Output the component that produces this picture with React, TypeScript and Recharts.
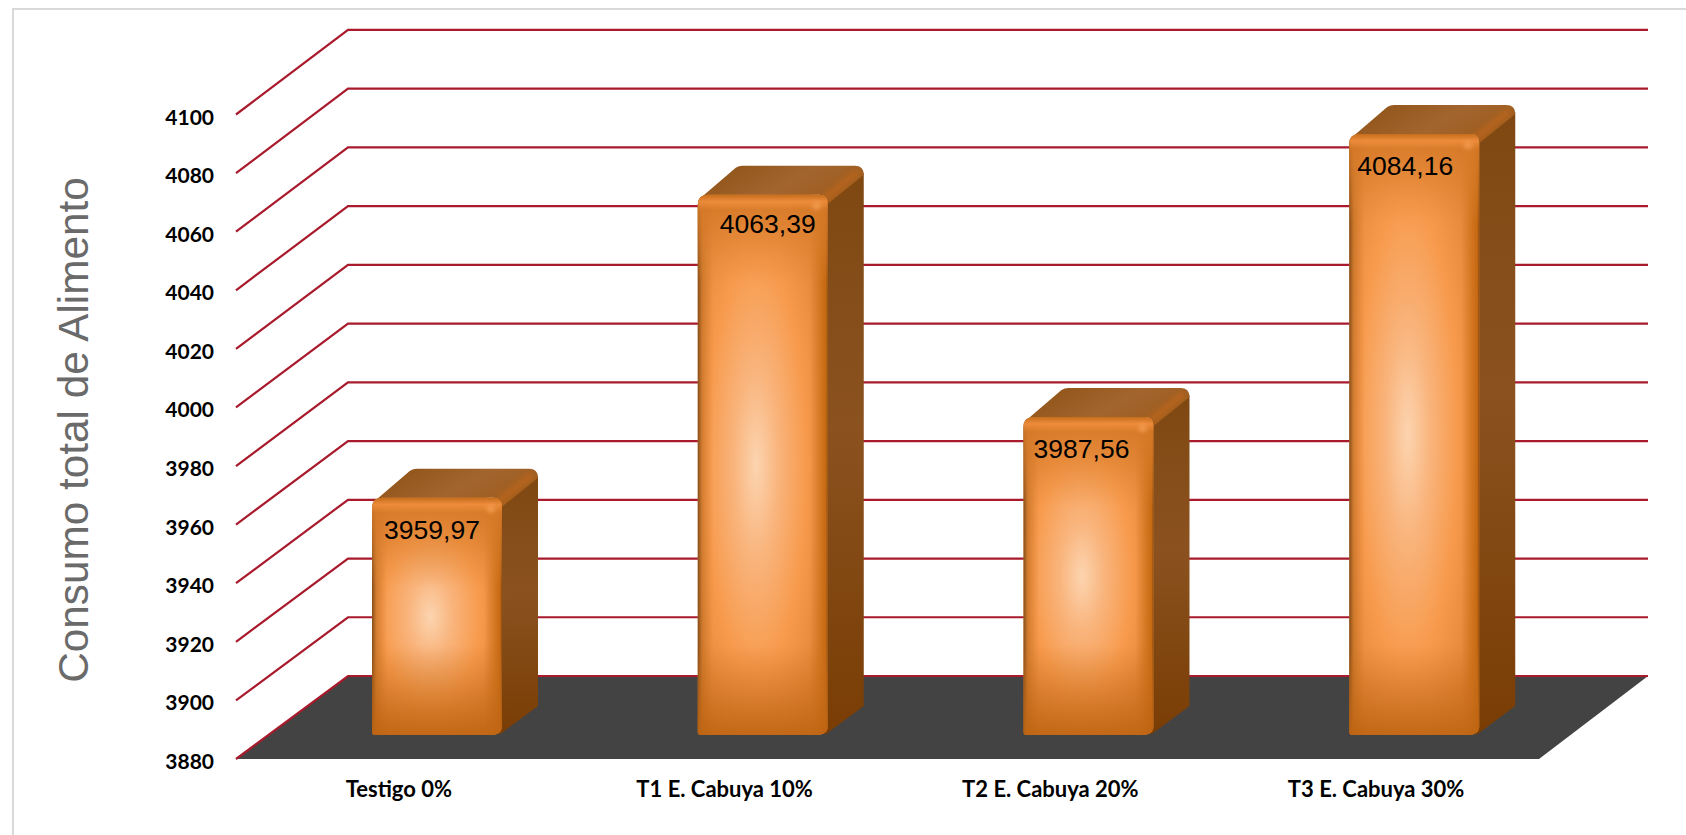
import React from "react";
import { BarChart, Bar, XAxis, YAxis, CartesianGrid, LabelList } from "recharts";

// Chart data
const categories = ["Testigo 0%", "T1 E. Cabuya 10%", "T2 E. Cabuya 20%", "T3 E. Cabuya 30%"];
const consumo = [3959.97, 4063.39, 3987.56, 4084.16];
const yTicks = [3880, 3900, 3920, 3940, 3960, 3980, 4000, 4020, 4040, 4060, 4080, 4100];
const yTitle = "Consumo total de Alimento";

const rows = categories.map((name, i) => ({ name, value: consumo[i] }));

// Canvas and plot geometry
const WIDTH = 1686;
const HEIGHT = 835;
const MARGIN = { top: 114.5, right: 147, bottom: 0, left: 0 };
const AXIS_W = 236;
const AXIS_H = 76;
const FLOOR_Y = HEIGHT - AXIS_H;

// Depth of the chart box and of each column
const WALL_DX = 112;
const WALL_DY_FLOOR = 83;
const WALL_DY_GROW = 0.0025; // the back wall is very slightly taller than the front plane
const WALL_END = 1648;
const COL_SHIFT_X = 38;
const COL_TOP_SHIFT = -27;
const COL_BASE_SHIFT = -24;
const COL_DX = 36;
const COL_DY = 29;

const GRID_RED = "#a81a2c";
const FLOOR = "#434343";

// Small per-column text offsets for the value labels
const labelShiftX = [-5, 5, -7, -9];
const labelShiftY = [32, 29, 32, 32];

const formatValue = (v: number) => v.toFixed(2).replace(".", ",");

function GridLine(props: any) {
  const { x1, y1 } = props;
  const backY = y1 - WALL_DY_FLOOR - (FLOOR_Y - y1) * WALL_DY_GROW;
  const backX = x1 + WALL_DX;
  const isFloor = Math.abs(y1 - FLOOR_Y) < 1;
  return (
    <g>
      {isFloor && (
        <polygon
          points={`${x1},${y1} ${backX},${backY} ${WALL_END},${backY} ${props.x2},${y1}`}
          fill={FLOOR}
        />
      )}
      <polyline
        points={`${x1},${y1} ${backX},${backY} ${WALL_END},${backY}`}
        fill="none"
        stroke={GRID_RED}
        strokeWidth={2.2}
      />
    </g>
  );
}

function Column(props: any) {
  const { x, y, width, height, index } = props;
  const fx = x + COL_SHIFT_X;
  const top = y + COL_TOP_SHIFT;
  const bottom = y + height + COL_BASE_SHIFT;
  const h = bottom - top;
  const rx = fx + width;
  const id = `col${index}`;
  const frontPath = `M${fx},${top + 10} Q${fx},${top} ${fx + 10},${top} L${rx - 9},${top} Q${rx},${top} ${rx},${top + 9}
    L${rx},${bottom - 9} Q${rx},${bottom} ${rx - 12},${bottom} L${fx + 3},${bottom} Q${fx},${bottom} ${fx},${bottom - 3} Z`;
  const topPath = `M${fx + 3},${top + 3} L${fx + COL_DX + 2},${top - COL_DY + 2} Q${fx + COL_DX + 5},${top - COL_DY} ${fx + COL_DX + 9},${top - COL_DY}
    L${rx + COL_DX - 9},${top - COL_DY} Q${rx + COL_DX},${top - COL_DY} ${rx + COL_DX},${top - COL_DY + 9} L${rx},${top + 9} Q${rx},${top} ${rx - 9},${top} Z`;
  const sidePath = `M${rx - 1},${top + 6} L${rx + COL_DX},${top - COL_DY + 7} L${rx + COL_DX},${bottom - COL_DY} L${rx - 3},${bottom} Z`;
  const bandStop = (px: number) => `${(px / h) * 100}%`;
  return (
    <g>
      <defs>
        <radialGradient id={`${id}-glow`} cx="0.45" cy="0.5" r="0.62">
          <stop offset="0" stopColor="#fcd4b0" />
          <stop offset="0.28" stopColor="#f9b47c" />
          <stop offset="0.62" stopColor="#f79a4c" />
          <stop offset="1" stopColor="#e08334" />
        </radialGradient>
        <linearGradient id={`${id}-edges`} x1="0" x2="1" y1="0" y2="0">
          <stop offset="0" stopColor="#6e3f12" stopOpacity="0.85" />
          <stop offset="0.035" stopColor="#b3641a" stopOpacity="0.5" />
          <stop offset="0.12" stopColor="#c8701e" stopOpacity="0" />
          <stop offset="0.86" stopColor="#c8701e" stopOpacity="0" />
          <stop offset="0.94" stopColor="#c86a12" stopOpacity="0.6" />
          <stop offset="0.985" stopColor="#c2660f" stopOpacity="0.9" />
          <stop offset="1" stopColor="#8a4c10" stopOpacity="1" />
        </linearGradient>
        <linearGradient id={`${id}-ends`} x1="0" x2="0" y1="0" y2="1">
          <stop offset="0" stopColor="#c56d1c" stopOpacity="1" />
          <stop offset={bandStop(7)} stopColor="#ee8d3c" stopOpacity="0.95" />
          <stop offset={bandStop(15)} stopColor="#d67a28" stopOpacity="0.85" />
          <stop offset={bandStop(90)} stopColor="#e08534" stopOpacity="0" />
          <stop offset={`${100 - (90 / h) * 100}%`} stopColor="#c86e1c" stopOpacity="0" />
          <stop offset="1" stopColor="#bd6412" stopOpacity="0.9" />
        </linearGradient>
        <linearGradient id={`${id}-top`} x1="0" x2="1" y1="0.2" y2="0.6">
          <stop offset="0" stopColor="#8f5216" />
          <stop offset="0.55" stopColor="#a2652e" />
          <stop offset="0.85" stopColor="#a05f22" />
          <stop offset="1" stopColor="#ad5f16" />
        </linearGradient>
        <linearGradient id={`${id}-side`} x1="0" x2="0" y1="0" y2="1">
          <stop offset="0" stopColor="#7f4812" />
          <stop offset="0.45" stopColor="#8b5220" />
          <stop offset="1" stopColor="#793d04" />
        </linearGradient>
        <filter id={`${id}-soft`} x="-30%" y="-30%" width="160%" height="160%">
          <feGaussianBlur stdDeviation="2" />
        </filter>
      </defs>
      <path d={sidePath} fill={`url(#${id}-side)`} />
      <path d={topPath} fill={`url(#${id}-top)`} />
      <line
        x1={rx - 3}
        y1={top + 3}
        x2={rx + COL_DX - 6}
        y2={top - COL_DY + 6}
        stroke="#b9651c"
        strokeWidth={7}
        opacity={0.8}
        filter={`url(#${id}-soft)`}
      />
      <path d={frontPath} fill={`url(#${id}-glow)`} />
      <path d={frontPath} fill={`url(#${id}-edges)`} />
      <path d={frontPath} fill={`url(#${id}-ends)`} />
      <circle cx={rx - 11} cy={top + 11} r={4} fill="#f29a4e" filter={`url(#${id}-soft)`} />
    </g>
  );
}

function ValueLabel(props: any) {
  const { x, y, width, value, index } = props;
  return (
    <text
      x={x + COL_SHIFT_X + width / 2 + labelShiftX[index]}
      y={y + COL_TOP_SHIFT + labelShiftY[index]}
      textAnchor="middle"
      dominantBaseline="central"
      fontFamily="'Liberation Sans', Arial, sans-serif"
      fontSize={26.5}
      fill="#000"
    >
      {formatValue(value)}
    </text>
  );
}

function AxisTitle() {
  return (
    <text
      x={73}
      y={430}
      transform="rotate(-90 73 430)"
      textAnchor="middle"
      dominantBaseline="central"
      fontFamily="'Liberation Sans', Arial, sans-serif"
      fontSize={42.3}
      fill="#6a6a6a"
    >
      {yTitle}
    </text>
  );
}

function YTick(props: any) {
  const { x, y, payload } = props;
  return (
    <text
      x={x}
      y={y + 1.5}
      textAnchor="end"
      dominantBaseline="central"
      fontFamily="Lato, sans-serif"
      fontWeight={700}
      fontSize={21}
      fill="#000"
    >
      {payload.value}
    </text>
  );
}

const xTickStyle = { fontFamily: "Lato, sans-serif", fontWeight: 700, fontSize: 22, fill: "#000" };

export default function App() {
  return (
    <div
      style={{
        position: "absolute",
        left: 0,
        top: 0,
        width: WIDTH,
        height: HEIGHT,
        overflow: "hidden",
        background: "#fff",
      }}
    >
      <div style={{ position: "absolute", left: 12, top: 8, width: 2000, height: 2000, border: "2px solid #d9d9d9" }} />
      <div style={{ position: "absolute", left: 0, top: 0 }}>
        <BarChart width={WIDTH} height={HEIGHT} data={rows} margin={MARGIN}>
          <CartesianGrid vertical={false} horizontal={(p: any) => <GridLine {...p} />} horizontalValues={yTicks} />
          <XAxis
            dataKey="name"
            axisLine={false}
            tickLine={false}
            tickSize={0}
            tickMargin={22}
            height={AXIS_H}
            interval={0}
            tick={xTickStyle}
          />
          <YAxis
            domain={[yTicks[0], yTicks[yTicks.length - 1]]}
            ticks={yTicks}
            interval={0}
            axisLine={false}
            tickLine={false}
            tickSize={0}
            tickMargin={22}
            width={AXIS_W}
            tick={(p: any) => <YTick {...p} />}
            label={{ content: () => <AxisTitle /> }}
          />
          <Bar dataKey="value" barSize={130} isAnimationActive={false} shape={(p: any) => <Column {...p} />}>
            <LabelList dataKey="value" content={(p: any) => <ValueLabel {...p} />} />
          </Bar>
        </BarChart>
      </div>
    </div>
  );
}
